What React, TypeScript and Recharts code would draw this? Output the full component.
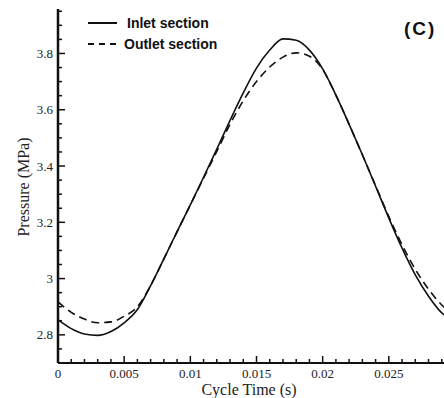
import { LineChart, Line, XAxis, YAxis } from "recharts";

// cycle time (s)
const TIME = [
  0, 0.001, 0.002, 0.003, 0.004, 0.005, 0.006, 0.007, 0.008, 0.009, 0.01,
  0.011, 0.012, 0.013, 0.014, 0.015, 0.016, 0.017, 0.018, 0.019, 0.02,
  0.021, 0.022, 0.023, 0.024, 0.025, 0.026, 0.027, 0.028, 0.029, 0.03,
];

// pressure (MPa)
const INLET = [
  2.854, 2.822, 2.803, 2.798, 2.812, 2.843, 2.89, 2.975, 3.07, 3.167, 3.262,
  3.36, 3.46, 3.562, 3.66, 3.748, 3.812, 3.852, 3.847, 3.812, 3.745,
  3.652, 3.548, 3.44, 3.328, 3.215, 3.108, 3.013, 2.937, 2.878, 2.852,
];

const OUTLET = [
  2.917, 2.88, 2.856, 2.843, 2.846, 2.866, 2.9, 2.975, 3.07, 3.167, 3.262,
  3.357, 3.452, 3.548, 3.632, 3.7, 3.752, 3.787, 3.802, 3.79, 3.743,
  3.652, 3.548, 3.44, 3.33, 3.22, 3.12, 3.033, 2.962, 2.906, 2.868,
];

const SERIES = ["Inlet section", "Outlet section"];

const X_TICKS = [
  0, 0.001, 0.002, 0.003, 0.004, 0.005, 0.006, 0.007, 0.008, 0.009, 0.01,
  0.011, 0.012, 0.013, 0.014, 0.015, 0.016, 0.017, 0.018, 0.019, 0.02,
  0.021, 0.022, 0.023, 0.024, 0.025, 0.026, 0.027, 0.028, 0.029, 0.03,
];
const X_MAJOR = [0, 0.005, 0.01, 0.015, 0.02, 0.025, 0.03];
const X_LABELS = ["0", "0.005", "0.01", "0.015", "0.02", "0.025", ""];

const Y_TICKS = [
  2.7, 2.75, 2.8, 2.85, 2.9, 2.95, 3, 3.05, 3.1, 3.15, 3.2, 3.25, 3.3,
  3.35, 3.4, 3.45, 3.5, 3.55, 3.6, 3.65, 3.7, 3.75, 3.8, 3.85, 3.9, 3.95,
];
const Y_MAJOR = [2.8, 3, 3.2, 3.4, 3.6, 3.8];
const Y_LABELS = ["2.8", "3", "3.2", "3.4", "3.6", "3.8"];

const data = TIME.map((t, i) => ({ t, inlet: INLET[i], outlet: OUTLET[i] }));

const SERIF = "'Liberation Serif', 'Times New Roman', serif";
const SANS = "'Liberation Sans', Arial, sans-serif";
const INK = "#111";

const majorIndex = (list: number[], v: number) =>
  list.findIndex((m) => Math.abs(m - v) < 1e-7);

// ticks point into the plot, long on labelled values
function XTick(props: any) {
  const x = Number(props.x);
  const y = Number(props.y);
  const idx = majorIndex(X_MAJOR, props.payload.value);
  const len = idx >= 0 ? 7 : 4;
  return (
    <g>
      <line x1={x} y1={y} x2={x} y2={y - len} stroke={INK} strokeWidth={1.5} />
      {idx >= 0 && X_LABELS[idx] !== "" && (
        <text x={x} y={y + 15} textAnchor="middle" fontSize={13} fontFamily={SERIF} fill="#222">
          {X_LABELS[idx]}
        </text>
      )}
    </g>
  );
}

function YTick(props: any) {
  const x = Number(props.x);
  const y = Number(props.y);
  const idx = majorIndex(Y_MAJOR, props.payload.value);
  const len = idx >= 0 ? 7 : 4;
  return (
    <g>
      <line x1={x} y1={y} x2={x + len} y2={y} stroke={INK} strokeWidth={1.5} />
      {idx >= 0 && (
        <text x={x - 5} y={y + 4.5} textAnchor="end" fontSize={13} fontFamily={SERIF} fill="#222">
          {Y_LABELS[idx]}
        </text>
      )}
    </g>
  );
}

export default function App() {
  return (
    <div
      style={{
        position: "fixed",
        left: 0,
        top: 0,
        width: 444,
        height: 398,
        overflow: "hidden",
        background: "#fff",
      }}
    >
      <LineChart width={470} height={398} data={data} margin={{ top: 9, right: 15, left: 0, bottom: 0 }}>
        <XAxis
          dataKey="t"
          type="number"
          domain={[0, 0.03]}
          ticks={X_TICKS}
          interval={0}
          height={35}
          tickSize={0}
          tickMargin={0}
          tick={(p: any) => <XTick {...p} />}
          axisLine={{ stroke: INK, strokeWidth: 2 }}
          label={{
            content: () => (
              <text x={249} y={395} textAnchor="middle" fontSize={16} fontFamily={SERIF} fill="#222">
                Cycle Time (s)
              </text>
            ),
          }}
        />
        <XAxis
          xAxisId="top"
          orientation="top"
          type="number"
          domain={[0, 0.03]}
          height={0}
          tick={false}
          tickLine={false}
          axisLine={{ stroke: "#222", strokeWidth: 1.5 }}
        />
        <YAxis
          type="number"
          domain={[2.7, 3.958]}
          ticks={Y_TICKS}
          interval={0}
          allowDataOverflow
          width={58}
          tickSize={0}
          tickMargin={0}
          tick={(p: any) => <YTick {...p} />}
          axisLine={{ stroke: INK, strokeWidth: 2.5 }}
          label={{
            content: () => (
              <text
                x={29}
                y={187}
                transform="rotate(-90, 29, 187)"
                textAnchor="middle"
                fontSize={16}
                fontFamily={SERIF}
                fill="#222"
              >
                Pressure (MPa)
              </text>
            ),
          }}
        />
        <Line
          type="monotone"
          dataKey="inlet"
          name={SERIES[0]}
          stroke={INK}
          strokeWidth={1.6}
          dot={false}
          isAnimationActive={false}
        />
        <Line
          type="monotone"
          dataKey="outlet"
          name={SERIES[1]}
          stroke={INK}
          strokeWidth={1.6}
          strokeDasharray="8 5"
          dot={false}
          isAnimationActive={false}
        />
      </LineChart>
      <svg
        width={444}
        height={398}
        style={{ position: "absolute", left: 0, top: 0, pointerEvents: "none" }}
      >
        <line x1={88} y1={23} x2={117} y2={23} stroke={INK} strokeWidth={2} />
        <text x={127} y={28} fontSize={14} fontWeight="bold" fontFamily={SANS} fill={INK}>
          {SERIES[0]}
        </text>
        <line x1={88} y1={44} x2={118} y2={44} stroke={INK} strokeWidth={2} strokeDasharray="6 5" />
        <text x={124} y={49} fontSize={14} fontWeight="bold" fontFamily={SANS} fill={INK}>
          {SERIES[1]}
        </text>
        <text x={404} y={35} fontSize={19} fontWeight="bold" fontFamily={SANS} fill={INK} letterSpacing={2}>
          (C)
        </text>
      </svg>
    </div>
  );
}
